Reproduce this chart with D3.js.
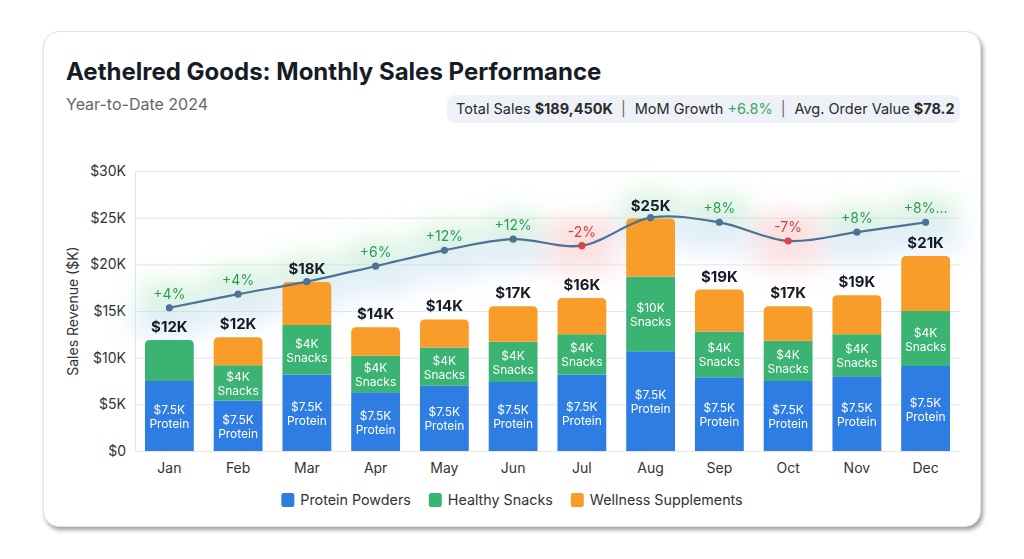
<!DOCTYPE html>
<html>
<head>
<meta charset="utf-8">
<script src="https://cdn.jsdelivr.net/npm/d3@7"></script>
<style>
  html, body { margin: 0; padding: 0; background: #fff; }
  body { width: 1024px; height: 559px; position: relative; overflow: hidden; font-family: Inter, "Noto Sans", sans-serif; }
  #card { position: absolute; left: 43px; top: 31px; width: 936px; height: 494px; background: #fff;
          border: 1px solid #e2e2e2; border-radius: 16px; box-shadow: 2px 3px 4px rgba(0,0,0,0.38); }
  #chart { position: absolute; left: 0; top: 0; }
</style>
</head>
<body>
<div id="card"></div>
<div id="chart"></div>
<script>
var months = ['Jan', 'Feb', 'Mar', 'Apr', 'May', 'Jun', 'Jul', 'Aug', 'Sep', 'Oct', 'Nov', 'Dec'];
var protein = [7.5, 5.4, 8.2, 6.3, 7.0, 7.4, 8.2, 10.7, 7.9, 7.5, 8.0, 9.1];
var snacks = [4.4, 3.8, 5.3, 3.9, 4.1, 4.3, 4.3, 8.0, 4.9, 4.3, 4.5, 5.9];
var supplements = [0, 3.0, 4.6, 3.05, 3.0, 3.8, 3.9, 6.2, 4.5, 3.7, 4.2, 5.9];
var trend = [15.35, 16.8, 18.15, 19.8, 21.5, 22.7, 22.0, 25.0, 24.5, 22.5, 23.45, 24.5];
var growthLabels = ['+4%', '+4%', '', '+6%', '+12%', '+12%', '-2%', '', '+8%', '-7%', '+8%', '+8%...'];
var totalLabels = ['$12K', '$12K', '$18K', '$14K', '$14K', '$17K', '$16K', '$25K', '$19K', '$17K', '$19K', '$21K'];
var proteinLabels = ['$7.5K', '$7.5K', '$7.5K', '$7.5K', '$7.5K', '$7.5K', '$7.5K', '$7.5K', '$7.5K', '$7.5K', '$7.5K', '$7.5K'];
var snackLabels = ['', '$4K', '$4K', '$4K', '$4K', '$4K', '$4K', '$10K', '$4K', '$4K', '$4K', '$4K'];
var yTicks = [0, 5, 10, 15, 20, 25, 30];
var seriesNames = ['Protein Powders', 'Healthy Snacks', 'Wellness Supplements'];
var seriesColors = ['#2d7de3', '#3bb372', '#f89d29'];

var svg = d3.select('#chart').append('svg')
            .attr('width', 1024)
            .attr('height', 559);

var defs = svg.append('defs');
defs.append('filter').attr('id', 'glow')
    .attr('x', '-100%').attr('y', '-100%').attr('width', '300%').attr('height', '300%')
    .append('feGaussianBlur').attr('stdDeviation', 12);

var x = d3.scaleBand()
          .domain(months)
          .range([135, 960])
          .paddingInner(0.29)
          .paddingOuter(0.145);

var y = d3.scaleLinear()
          .domain([0, 30])
          .range([451, 171]);

// Title block
svg.append('text')
   .attr('x', 66).attr('y', 80)
   .attr('font-size', 24).attr('font-weight', 700).attr('fill', '#161b26')
   .text('Aethelred Goods: Monthly Sales Performance');

svg.append('text')
   .attr('x', 66).attr('y', 110)
   .attr('font-size', 16).attr('fill', '#666')
   .text('Year-to-Date 2024');

// KPI pill
svg.append('rect')
   .attr('x', 447).attr('y', 95).attr('width', 513).attr('height', 28)
   .attr('rx', 8).attr('fill', '#eef1f7');

var kpi = svg.append('text')
             .attr('x', 456).attr('y', 114)
             .attr('font-size', 14.5).attr('fill', '#2a2a2a');
kpi.append('tspan').text('Total Sales ');
kpi.append('tspan').attr('font-weight', 700).text('$189,450K');
kpi.append('tspan').attr('fill', '#666').attr('dx', 8).text('|');
kpi.append('tspan').attr('dx', 9).text('MoM Growth ');
kpi.append('tspan').attr('fill', '#3aa866').text('+6.8%');
kpi.append('tspan').attr('fill', '#666').attr('dx', 8).text('|');
kpi.append('tspan').attr('dx', 9).text('Avg. Order Value ');
kpi.append('tspan').attr('font-weight', 700).text('$78.2');

// Grid + y axis
var yAxis = d3.axisLeft(y)
              .tickValues(yTicks)
              .tickSize(-825)
              .tickPadding(9)
              .tickFormat(function(d) { return d === 0 ? '$0' : '$' + d + 'K'; });

var yG = svg.append('g')
            .attr('transform', 'translate(135, 0)')
            .call(yAxis);
yG.select('.domain').attr('stroke', '#e6e6e6');
yG.selectAll('.tick line').attr('stroke', '#e6e6e6');
yG.selectAll('.tick text').attr('font-size', 14).attr('fill', '#333').attr('font-family', 'Inter');

svg.append('text')
   .attr('transform', 'translate(78, 311) rotate(-90)')
   .attr('text-anchor', 'middle')
   .attr('font-size', 14).attr('fill', '#333')
   .text('Sales Revenue ($K)');

// x axis
var xAxis = d3.axisBottom(x).tickSize(0).tickPadding(12);
var xG = svg.append('g')
            .attr('transform', 'translate(0, 451)')
            .call(xAxis);
xG.select('.domain').remove();
xG.selectAll('.tick text').attr('font-size', 14).attr('fill', '#333').attr('font-family', 'Inter');

// Glow behind trend labels
var glow = svg.append('g').attr('filter', 'url(#glow)');
months.forEach(function(m, i) {
    var cx = x(m) + x.bandwidth() / 2;
    var neg = growthLabels[i].charAt(0) === '-';
    glow.append('ellipse')
        .attr('cx', cx).attr('cy', y(trend[i]) - 12)
        .attr('rx', 36).attr('ry', 15)
        .attr('fill', neg ? '#f4a3a3' : '#9fe0b0')
        .attr('opacity', 0.4);
    glow.append('ellipse')
        .attr('cx', cx).attr('cy', y(trend[i]) + 15)
        .attr('rx', 42).attr('ry', 15)
        .attr('fill', neg ? '#f6c0c0' : '#b9d4f4')
        .attr('opacity', 0.4);
});

// Stacked bars
var stackData = months.map(function(m, i) {
    return { month: m, protein: protein[i], snacks: snacks[i], supplements: supplements[i] };
});
var stack = d3.stack().keys(['protein', 'snacks', 'supplements']);
var layers = stack(stackData);

var barW = x.bandwidth();
var r = 5;

layers.forEach(function(layer, li) {
    var g = svg.append('g');
    layer.forEach(function(d, i) {
        var x0 = x(months[i]);
        var yTop = y(d[1]);
        var yBot = y(d[0]);
        var h = yBot - yTop;
        if (h <= 0) return;
        // top-most non-empty segment gets rounded top corners
        var isTop = true;
        for (var k = li + 1; k < layers.length; k++) {
            if (layers[k][i][1] - layers[k][i][0] > 0) isTop = false;
        }
        var path;
        if (isTop) {
            path = 'M' + x0 + ',' + yBot +
                   'V' + (yTop + r) +
                   'Q' + x0 + ',' + yTop + ' ' + (x0 + r) + ',' + yTop +
                   'H' + (x0 + barW - r) +
                   'Q' + (x0 + barW) + ',' + yTop + ' ' + (x0 + barW) + ',' + (yTop + r) +
                   'V' + yBot + 'Z';
        } else {
            path = 'M' + x0 + ',' + yBot + 'V' + yTop + 'H' + (x0 + barW) + 'V' + yBot + 'Z';
        }
        g.append('path').attr('d', path).attr('fill', seriesColors[li]);
    });
});

// Segment labels
var segLabel = function(layerIdx, valueLabels, nameLabel) {
    layers[layerIdx].forEach(function(d, i) {
        if (!valueLabels[i]) return;
        var cx = x(months[i]) + barW / 2;
        var cy = (y(d[0]) + y(d[1])) / 2;
        var t = svg.append('text')
                   .attr('x', cx).attr('text-anchor', 'middle')
                   .attr('font-size', 12).attr('fill', '#fff');
        t.append('tspan').attr('x', cx).attr('y', cy - 2).text(valueLabels[i]);
        t.append('tspan').attr('x', cx).attr('y', cy + 12).text(nameLabel);
    });
};
segLabel(0, proteinLabels, 'Protein');
segLabel(1, snackLabels, 'Snacks');

// Total labels
months.forEach(function(m, i) {
    var total = protein[i] + snacks[i] + supplements[i];
    svg.append('text')
       .attr('x', x(m) + barW / 2).attr('y', y(total) - 8)
       .attr('text-anchor', 'middle')
       .attr('font-size', 15).attr('font-weight', 700).attr('fill', '#161b26')
       .text(totalLabels[i]);
});

// Trend line
var line = d3.line()
             .x(function(d, i) { return x(months[i]) + barW / 2; })
             .y(function(d) { return y(d); })
             .curve(d3.curveCatmullRom.alpha(0.5));

svg.append('path')
   .datum(trend)
   .attr('d', line)
   .attr('fill', 'none')
   .attr('stroke', '#4d7293')
   .attr('stroke-width', 2.2);

months.forEach(function(m, i) {
    var cx = x(m) + barW / 2;
    var neg = growthLabels[i].charAt(0) === '-';
    svg.append('circle')
       .attr('cx', cx).attr('cy', y(trend[i]))
       .attr('r', 3.6)
       .attr('fill', neg ? '#d9434a' : '#4d7293');
    if (growthLabels[i]) {
        svg.append('text')
           .attr('x', cx).attr('y', y(trend[i]) - 9)
           .attr('text-anchor', 'middle')
           .attr('font-size', 14)
           .attr('fill', neg ? '#cf3f45' : '#2f9a57')
           .text(growthLabels[i]);
    }
});

// Legend
var legend = svg.append('g').attr('transform', 'translate(0, 500)');
var items = [];
seriesNames.forEach(function(name, i) {
    var g = legend.append('g');
    g.append('rect')
     .attr('x', 0).attr('y', -7).attr('width', 13).attr('height', 14)
     .attr('rx', 2.5).attr('fill', seriesColors[i]);
    var t = g.append('text')
             .attr('x', 19).attr('y', 5)
             .attr('font-size', 14.3).attr('fill', '#333')
             .text(name);
    items.push({ g: g, w: 19 + t.node().getComputedTextLength() });
});
var gap = 18;
var totalW = d3.sum(items, function(d) { return d.w; }) + gap * (items.length - 1);
var cursor = 512 - totalW / 2;
items.forEach(function(it) {
    it.g.attr('transform', 'translate(' + cursor + ', 0)');
    cursor += it.w + gap;
});
</script>
</body>
</html>
